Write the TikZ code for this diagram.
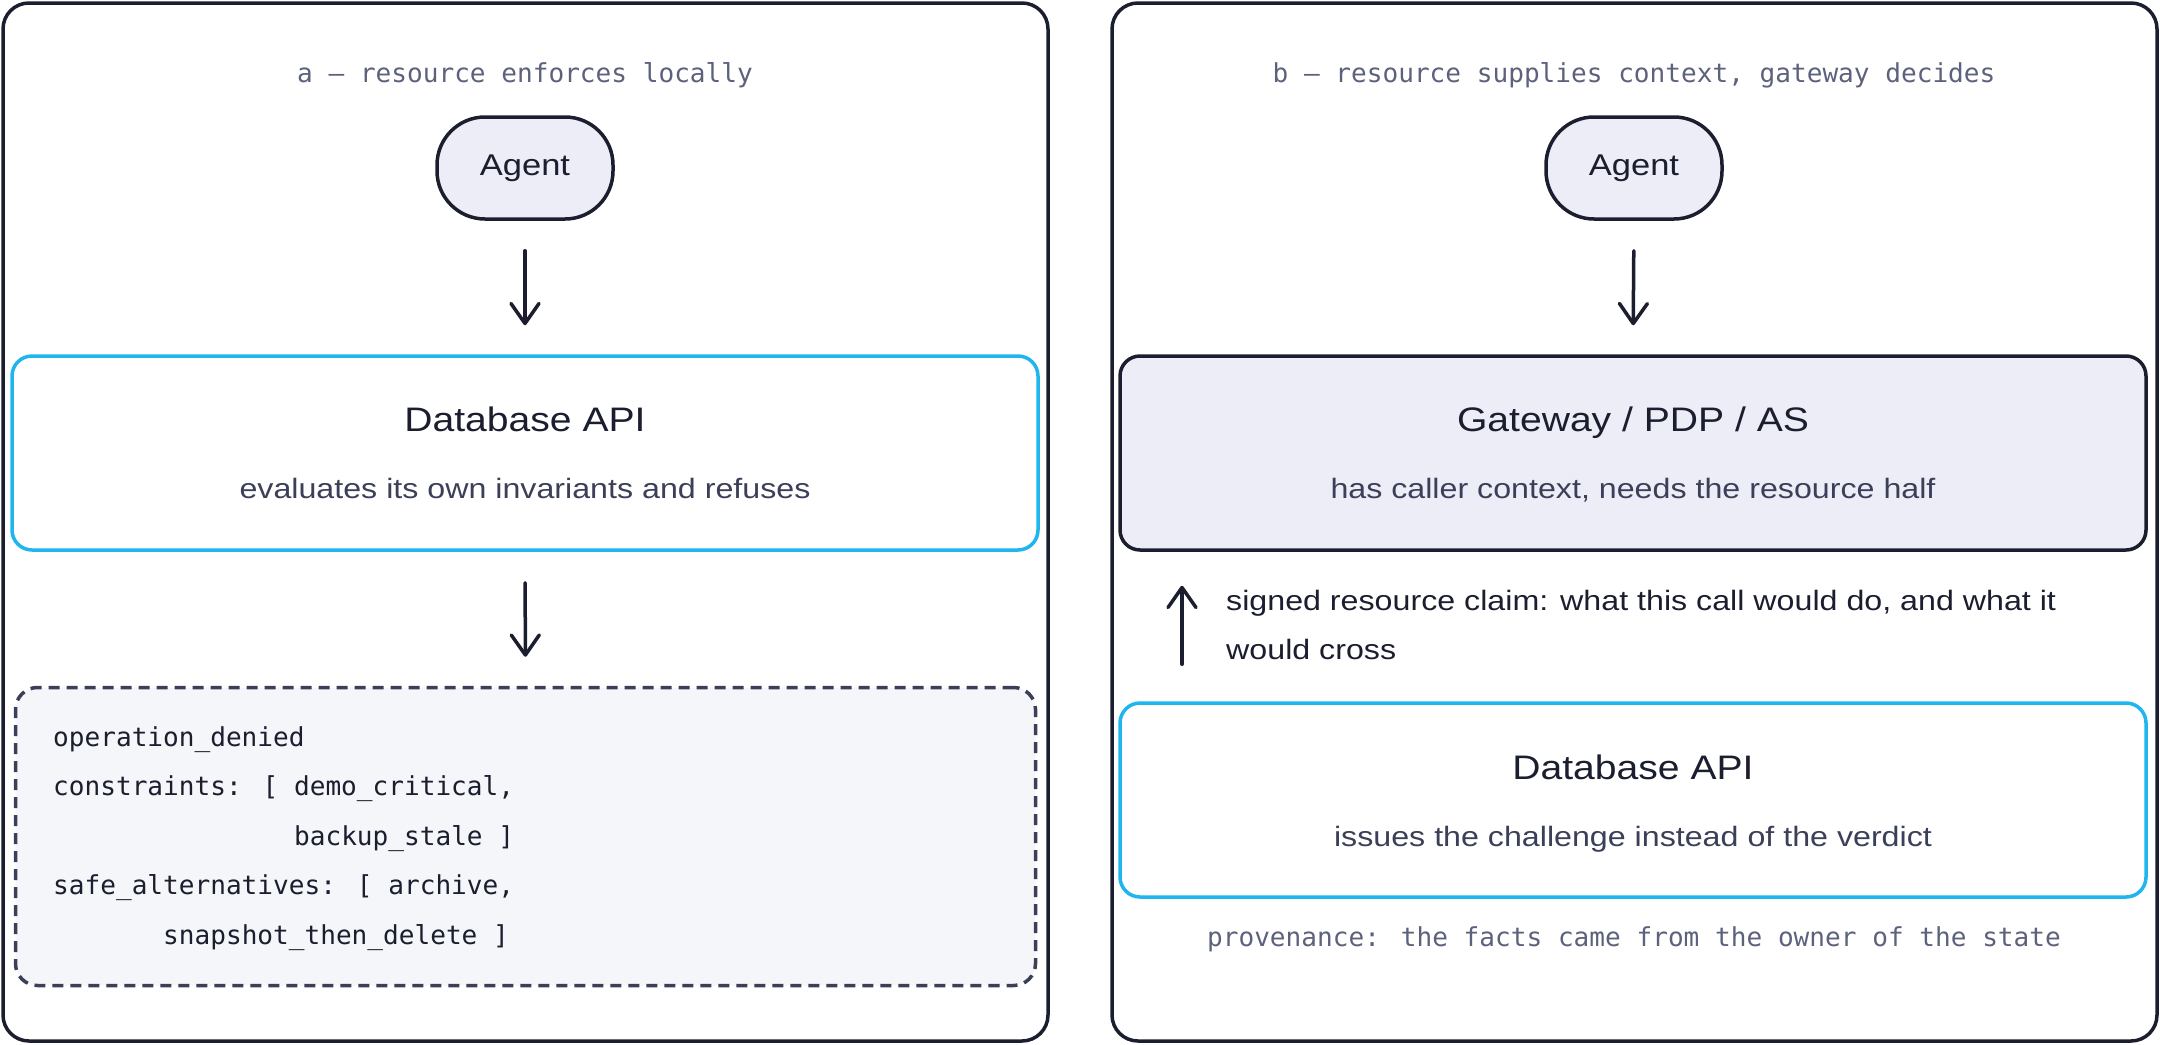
\documentclass[tikz,border=0pt]{standalone}
\usepackage{fontspec}
\usetikzlibrary{arrows.meta}
\newfontfamily\handfont[FakeStretch=1.15]{Liberation Sans}
\newfontfamily\monofont{DejaVu Sans Mono}
\definecolor{ink}{HTML}{1B1E2E}
\definecolor{subc}{HTML}{3B4058}
\definecolor{muted}{HTML}{5C627C}
\definecolor{sky}{HTML}{1FB5EE}
\definecolor{lav}{HTML}{EDEDF7}
\definecolor{codebg}{HTML}{F5F6FA}
\definecolor{dashc}{HTML}{3B4058}
\tikzset{
  panel/.style={draw=ink, line width=3.5pt, rounded corners=26pt, inner sep=0pt,
    minimum width=1045pt, minimum height=1038pt},
  agentbox/.style={draw=ink, fill=lav, line width=3.5pt, rounded corners=48pt, inner sep=0pt,
    minimum width=176pt, minimum height=102pt, text=ink,
    font=\handfont\fontsize{30}{36}\selectfont},
  apibox/.style={draw=sky, fill=white, line width=3.5pt, rounded corners=20pt, inner sep=0pt,
    minimum width=1026pt, minimum height=194pt},
  gwbox/.style={draw=ink, fill=lav, line width=3.5pt, rounded corners=20pt, inner sep=0pt,
    minimum width=1026pt, minimum height=194pt},
  codebox/.style={draw=dashc, fill=codebg, line width=3.5pt, dash pattern=on 11pt off 7pt,
    rounded corners=22pt, inner sep=0pt, minimum width=1020pt, minimum height=298pt},
  boxtitle/.style={anchor=base, inner sep=0pt, text=ink, font=\handfont\fontsize{34}{40}\selectfont},
  boxsub/.style={anchor=base, inner sep=0pt, text=subc, font=\handfont\fontsize{28}{34}\selectfont},
  claimtext/.style={anchor=base west, inner sep=0pt, text=ink, font=\handfont\fontsize{28}{34}\selectfont},
  monotitle/.style={anchor=base, inner sep=0pt, text=muted, font=\monofont\fontsize{26.1}{30}\selectfont},
  codeline/.style={anchor=base west, inner sep=0pt, text=ink, font=\monofont\fontsize{26.1}{30}\selectfont},
  arr/.style={draw=ink, line width=3.5pt, line cap=round,
    -{Straight Barb[length=20pt,width=28pt,round]}}
}
\begin{document}
\begin{tikzpicture}[x=1pt,y=-1pt]
\useasboundingbox (0,0) rectangle (2160,1044);
% panels
\node[panel] (panelA) at (525.5,522) {};
\node[panel] (panelB) at (1634.5,522) {};
% titles
\node[monotitle] (titleA) at (525,82) {a — resource enforces locally};
\node[monotitle] (titleB) at (1634,82) {b — resource supplies context, gateway decides};
% left column
\node[agentbox] (agentA) at (525,168) {Agent};
\node[apibox] (dbA) at (525,453) {};
\node[boxtitle] (dbAt) at (525,431) {Database API};
\node[boxsub] (dbAs) at (525,498) {evaluates its own invariants and refuses};
\node[codebox] (code) at (525.5,836.5) {};
\node[codeline] (c1) at (53,746) {operation\_denied};
\node[codeline] (c2) at (53,795.5) {constraints: [ demo\_critical,};
\node[codeline] (c3) at (53,845) {\hphantom{constraints: [ }backup\_stale ]};
\node[codeline] (c4) at (53,894.5) {safe\_alternatives: [ archive,};
\node[codeline] (c5) at (53,944) {\hphantom{safe\_al}snapshot\_then\_delete ]};
\draw[arr, shorten <=30pt, shorten >=29pt] (agentA.south) -- (dbA.north);
\draw[arr, shorten <=31pt, shorten >=29pt] (dbA.south) -- (code.north);
% right column
\node[agentbox] (agentB) at (1634,168) {Agent};
\node[gwbox] (gw) at (1633,453) {};
\node[boxtitle] (gwt) at (1633,431) {Gateway / PDP / AS};
\node[boxsub] (gws) at (1633,498) {has caller context, needs the resource half};
\node[apibox] (dbB) at (1633,800) {};
\node[boxtitle] (dbBt) at (1633,779) {Database API};
\node[boxsub] (dbBs) at (1633,846) {issues the challenge instead of the verdict};
\node[claimtext] (claim1) at (1226,610) {signed resource claim: what this call would do, and what it};
\node[claimtext] (claim2) at (1226,659) {would cross};
\node[monotitle] (prov) at (1634,946) {provenance: the facts came from the owner of the state};
\coordinate (claimx) at (1182,0);
\draw[arr, shorten <=30pt, shorten >=29pt] (agentB.south) -- (gw.north);
\draw[arr, shorten <=37pt, shorten >=34pt] (dbB.north -| claimx) -- (gw.south -| claimx);
\end{tikzpicture}
\end{document}
